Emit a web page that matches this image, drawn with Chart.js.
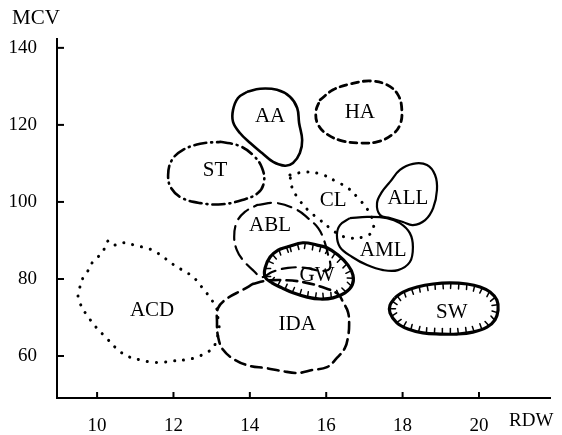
<!DOCTYPE html>
<html>
<head>
<meta charset="utf-8">
<script src="https://cdn.jsdelivr.net/npm/chart.js@4.4.1/dist/chart.umd.min.js"></script>
<style>
  html, body { margin: 0; padding: 0; background: #fff; }
  #wrap { width: 562px; height: 435px; }
</style>
</head>
<body>
<div id="wrap"><canvas id="chart"></canvas></div>
<script>
// axis ticks
const xTicks = [10, 12, 14, 16, 18, 20];
const yTicks = [60, 80, 100, 120, 140];

// region outlines, [RDW, MCV] pairs
const acd = [[10.47,88.8],[10.71,89.4],[10.97,88.8],[11.26,88.1],[11.49,87.3],[11.73,85.7],[11.91,84.4],[12.09,83.1],
  [12.33,81.8],[12.54,80.3],[12.70,78.4],[12.85,76.6],[12.98,74.8],[13.12,72.7],[13.17,69.4],[13.19,66.8],[13.04,62.1],
  [12.83,60.8],[12.62,59.7],[12.30,59.0],[11.99,58.7],[11.73,58.4],[11.44,58.4],[11.13,59.0],[10.86,59.7],[10.65,60.8],
  [10.47,62.3],[10.29,64.2],[9.97,67.5],[9.82,69.4],[9.69,71.2],[9.55,73.8],[9.50,75.8],[9.55,77.9],[9.63,80.3],
  [9.74,81.8],[9.87,84.2],[10.00,85.5],[10.16,87.3],[10.29,89.9]];
const ida = [[14.08,78.7],[13.80,77.1],[13.43,75.1],[13.17,72.5],[13.14,68.8],[13.17,64.9],[13.30,61.6],[13.61,59.0],
  [14.01,57.4],[14.40,56.9],[14.84,56.1],[15.26,55.6],[15.65,56.4],[16.02,57.1],[16.28,59.5],[16.49,62.1],[16.57,64.9],
  [16.60,68.1],[16.57,71.4],[16.44,74.0],[16.31,76.1],[15.89,77.9],[15.39,79.2],[14.87,79.7],[14.40,79.5]];
const gw = [[14.97,88.3],[15.39,89.4],[15.76,88.8],[16.02,88.1],[16.31,86.2],[16.57,83.6],[16.70,81.0],[16.68,78.4],
  [16.49,76.4],[16.18,75.1],[15.84,74.8],[15.50,75.3],[15.13,76.4],[14.84,77.7],[14.58,79.0],[14.40,80.5],[14.40,82.9],
  [14.53,85.7],[14.74,87.5]];
const abl = [[14.19,99.2],[14.71,99.7],[15.24,97.9],[15.52,95.8],[15.79,93.2],[15.94,90.1],[16.05,86.2],[16.10,82.9],
  [15.89,82.1],[15.45,82.9],[15.00,82.9],[14.58,81.8],[14.32,80.5],[14.08,82.3],[13.82,84.9],[13.66,87.5],[13.59,90.9],
  [13.66,94.8],[13.87,97.4]];
const aa = [[13.93,128.6],[14.27,129.4],[14.71,129.1],[15.05,127.3],[15.24,124.4],[15.29,120.5],[15.37,116.1],
  [15.31,112.7],[15.13,110.1],[14.92,109.4],[14.61,110.4],[14.32,112.7],[14.01,115.3],[13.74,117.9],[13.56,120.8],
  [13.56,123.9],[13.69,127.0]];
const ha = [[15.84,126.5],[16.18,129.1],[16.62,130.6],[17.15,131.4],[17.59,130.4],[17.88,127.8],[17.98,123.9],
  [17.93,120.0],[17.72,117.4],[17.33,115.6],[16.88,115.3],[16.44,115.8],[16.05,117.4],[15.79,120.0],[15.73,123.4]];
const st = [[13.22,115.6],[13.74,114.5],[14.11,111.9],[14.32,108.8],[14.37,105.2],[14.21,102.3],[13.80,100.5],
  [13.27,99.4],[12.70,99.7],[12.23,101.0],[11.94,103.6],[11.86,107.0],[11.96,110.9],[12.25,113.5],[12.70,115.1]];
const cl = [[15.05,107.0],[15.50,107.8],[15.92,107.0],[16.28,105.2],[16.57,103.6],[16.88,100.5],[17.09,97.9],
  [17.23,94.8],[17.20,92.2],[16.96,90.9],[16.62,90.6],[16.36,91.4],[16.10,93.2],[15.84,95.3],[15.52,97.9],
  [15.26,101.0],[15.10,103.9]];
const all = [[17.67,105.2],[17.93,108.3],[18.27,109.9],[18.64,109.6],[18.85,107.0],[18.90,103.1],[18.80,98.4],
  [18.59,95.3],[18.27,94.0],[18.01,94.8],[17.67,95.8],[17.41,96.6],[17.33,99.7],[17.46,102.6]];
const aml = [[16.62,95.8],[17.07,96.1],[17.59,95.8],[17.93,94.5],[18.19,91.9],[18.27,88.3],[18.19,84.4],[17.88,82.3],
  [17.49,82.3],[17.07,83.6],[16.68,85.7],[16.36,88.3],[16.28,91.4],[16.36,94.0]];
const sw = [[17.80,75.1],[18.01,76.6],[18.38,77.9],[18.80,78.7],[19.24,79.0],[19.69,78.7],[20.03,77.9],[20.29,76.6],
  [20.47,74.5],[20.50,71.9],[20.42,69.4],[20.21,67.5],[19.84,66.2],[19.42,65.7],[18.98,65.7],[18.53,66.0],[18.14,67.0],
  [17.85,68.6],[17.67,71.2],[17.67,73.2]];

// region names and where they are written
const labelNames = ['AA', 'HA', 'ST', 'CL', 'ALL', 'ABL', 'AML', 'GW', 'ACD', 'IDA', 'SW'];
const labelX = [14.53, 16.88, 13.09, 16.18, 18.14, 14.53, 17.49, 15.76, 11.44, 15.24, 19.29];
const labelY = [122.1, 123.1, 108.1, 100.5, 101.0, 94.0, 87.5, 81.0, 71.7, 68.1, 71.4];

const SERIF = '"Liberation Serif", "DejaVu Serif", serif';

function loop(pts){
  const d = pts.map(p => ({ x: p[0], y: p[1] }));
  d.push({ x: pts[0][0], y: pts[0][1] });
  return d;
}

function region(pts, width, dash, extra){
  return Object.assign({
    data: loop(pts), showLine: true, fill: false, borderColor: '#000', borderWidth: width,
    borderDash: dash, borderCapStyle: dash.length ? 'round' : 'butt', borderJoinStyle: 'round',
    tension: 0.4, pointRadius: 0, pointHoverRadius: 0
  }, extra || {});
}

const DOT = [0.1, 9];

// inward hatch ticks along GW and SW
const hatchPlugin = {
  id: 'hatch',
  afterDatasetsDraw(chart){
    const ctx = chart.ctx;
    chart.data.datasets.forEach((ds, i) => {
      if(!ds.hatch) return;
      const pts = chart.getDatasetMeta(i).data.map(p => ({ x: p.x, y: p.y }));
      let cx = 0, cy = 0;
      pts.slice(0, -1).forEach(p => { cx += p.x; cy += p.y; });
      cx /= pts.length - 1; cy /= pts.length - 1;
      ctx.save();
      ctx.strokeStyle = '#000'; ctx.lineWidth = 1.5; ctx.lineCap = 'round';
      let carry = 3;
      for(let k = 0; k < pts.length - 1; k++){
        const a = pts[k], b = pts[k+1];
        const dx = b.x - a.x, dy = b.y - a.y, len = Math.hypot(dx, dy);
        if(!len) continue;
        const nx = -dy/len, ny = dx/len;
        let t = carry;
        while(t < len){
          const px = a.x + dx*t/len, py = a.y + dy*t/len;
          let sx = nx, sy = ny;
          if(sx*(cx-px) + sy*(cy-py) < 0){ sx = -sx; sy = -sy; }
          ctx.beginPath(); ctx.moveTo(px, py); ctx.lineTo(px + sx*5.5, py + sy*5.5); ctx.stroke();
          t += 8;
        }
        carry = t - len;
      }
      ctx.restore();
    });
  }
};

// tick marks pointing inward, region names, axis titles
const decorPlugin = {
  id: 'decor',
  afterDraw(chart){
    const ctx = chart.ctx, xs = chart.scales.x, ys = chart.scales.y, area = chart.chartArea;
    ctx.save();
    ctx.strokeStyle = '#000'; ctx.lineWidth = 2;
    xTicks.forEach(v => { const p = xs.getPixelForValue(v); ctx.beginPath(); ctx.moveTo(p, area.bottom); ctx.lineTo(p, area.bottom - 6); ctx.stroke(); });
    yTicks.forEach(v => { const p = ys.getPixelForValue(v); ctx.beginPath(); ctx.moveTo(area.left, p); ctx.lineTo(area.left + 7, p); ctx.stroke(); });
    ctx.fillStyle = '#000';
    ctx.textAlign = 'center'; ctx.textBaseline = 'middle';
    ctx.font = '21px ' + SERIF;
    labelNames.forEach((t, i) => ctx.fillText(t, xs.getPixelForValue(labelX[i]), ys.getPixelForValue(labelY[i])));
    ctx.textAlign = 'left';
    ctx.font = '21px ' + SERIF;
    ctx.fillText('MCV', 12, 18);
    ctx.font = '19px ' + SERIF;
    ctx.fillText('RDW', 509, 421);
    ctx.restore();
  }
};

new Chart(document.getElementById('chart'), {
  type: 'scatter',
  data: {
    datasets: [
      region(acd, 3, DOT),
      region(ida, 2.6, [11, 6]),
      region(abl, 2.2, [14, 7]),
      region(gw, 3.2, [], { hatch: true }),
      region(aa, 2.6, []),
      region(ha, 2.8, [7, 5]),
      region(st, 2.6, [12, 5, 1, 5]),
      region(cl, 3, DOT),
      region(all, 2.2, []),
      region(aml, 2.2, []),
      region(sw, 3.2, [], { hatch: true })
    ]
  },
  options: {
    responsive: true,
    maintainAspectRatio: false,
    animation: false,
    layout: { padding: { top: 39, right: 12, left: 0, bottom: 0 } },
    plugins: { legend: { display: false }, tooltip: { enabled: false } },
    scales: {
      x: {
        type: 'linear', min: 8.95, max: 21.86,
        grid: { display: false },
        border: { display: true, color: '#000', width: 2 },
        ticks: { color: '#000', font: { family: SERIF, size: 19 }, padding: 9 },
        afterBuildTicks: s => { s.ticks = xTicks.map(v => ({ value: v })); },
        afterFit: s => { s.height = 37; }
      },
      y: {
        type: 'linear', min: 49.1, max: 142.3,
        grid: { display: false },
        border: { display: true, color: '#000', width: 2 },
        ticks: { color: '#000', font: { family: SERIF, size: 19 }, padding: 12 },
        afterBuildTicks: s => { s.ticks = yTicks.map(v => ({ value: v })); },
        afterFit: s => { s.width = 57; }
      }
    }
  },
  plugins: [hatchPlugin, decorPlugin]
});
</script>
</body>
</html>
